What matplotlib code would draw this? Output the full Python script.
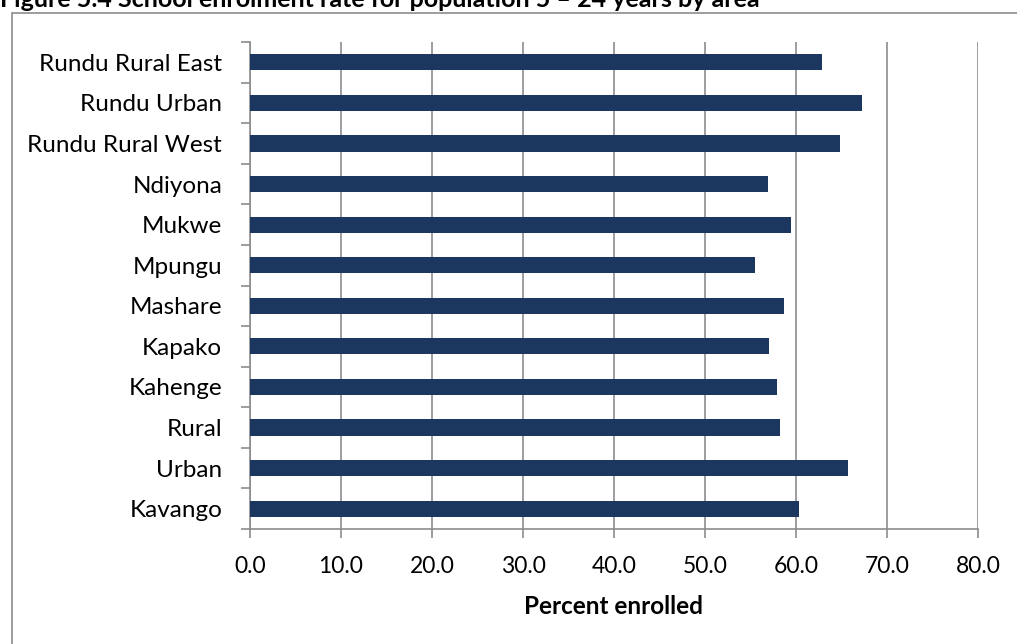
import matplotlib
matplotlib.use("Agg")
import matplotlib.pyplot as plt
import numpy as np
from matplotlib.patches import Rectangle

categories = ["Rundu Rural East", "Rundu Urban", "Rundu Rural West", "Ndiyona",
              "Mukwe", "Mpungu", "Mashare", "Kapako", "Kahenge", "Rural",
              "Urban", "Kavango"]
values = [62.9, 67.3, 64.8, 56.9, 59.4, 55.5, 58.7, 57.0, 57.9, 58.2, 65.7, 60.3]
xticks = [0, 10, 20, 30, 40, 50, 60, 70, 80]
title = "Figure 5.4 School enrolment rate for population 5 \u2013 24 years by area"
xlabel = "Percent enrolled"

plt.rcParams['font.family'] = ['Lato', 'DejaVu Sans']

W, H = 1017, 644
fig = plt.figure(figsize=(W / 100, H / 100), dpi=100)
ax = fig.add_axes([250 / W, 1 - 529 / H, (978 - 250) / W, (529 - 42) / H])

grey = '#8c8c8c'
n = len(categories)
ypos = np.arange(n)[::-1]
ax.barh(ypos, values, height=0.40, color='#1b375f', zorder=3)
ax.set_xlim(0, 80)
ax.set_ylim(-0.5, n - 0.5)
ax.set_xticks(xticks)
ax.set_xticklabels([f"{t:.1f}" for t in xticks], fontsize=16.5)
ax.set_yticks(ypos)
ax.set_yticklabels(categories, fontsize=17.5)
ax.set_yticks(np.arange(-0.5, n, 1.0), minor=True)
ax.tick_params(axis='y', which='major', length=0, pad=20)
ax.tick_params(axis='y', which='minor', length=6.5, width=1.2, color=grey, direction='out')
ax.tick_params(axis='x', length=6.5, width=1.2, color=grey, direction='out', pad=13)
ax.xaxis.grid(True, color=grey, linewidth=1.2, zorder=0)
for s in ['top', 'right']:
    ax.spines[s].set_visible(False)
for s in ['left', 'bottom']:
    ax.spines[s].set_color(grey)
    ax.spines[s].set_linewidth(1.2)
ax.set_xlabel(xlabel, fontsize=17.5, fontweight='bold', labelpad=13)

# outer frame
fig.patches.append(Rectangle((12 / W, -0.1), 1.2, 1 - 13 / H + 0.1, transform=fig.transFigure,
                             fill=False, edgecolor=grey, linewidth=1.2))
fig.text(0 / W, 1 - 7 / H, title, fontsize=18, fontweight='bold', ha='left', va='baseline')

fig.savefig("out.png", dpi=100)
